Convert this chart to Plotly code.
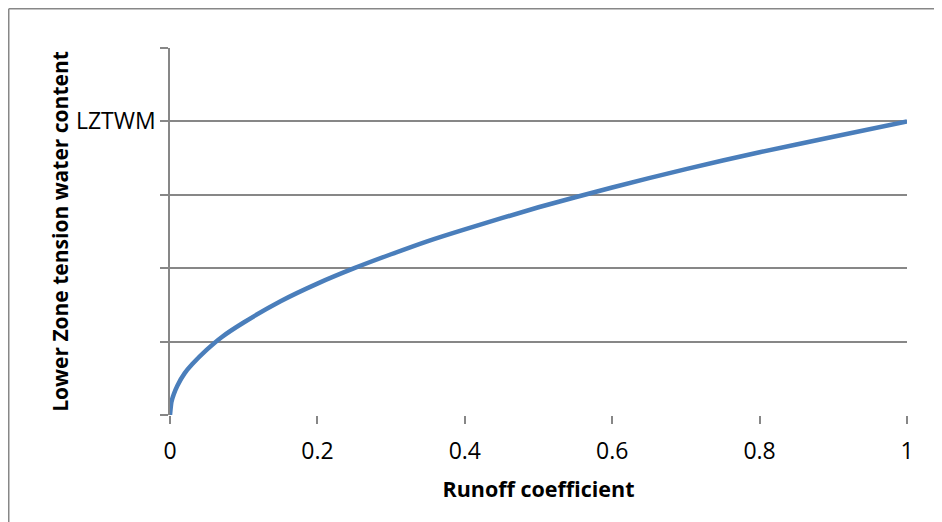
import plotly.graph_objects as go

# runoff coefficient vs lower zone tension water content
runoff = [0, 0.002, 0.005, 0.01, 0.02, 0.03, 0.05, 0.07, 0.1, 0.15, 0.2, 0.25,
          0.3, 0.35, 0.4, 0.5, 0.6, 0.7, 0.8, 0.9, 1.0]
lz_content = [0, 0.18, 0.28, 0.4, 0.57, 0.69, 0.89, 1.06, 1.26, 1.55, 1.79, 2.0,
              2.19, 2.37, 2.53, 2.83, 3.1, 3.35, 3.58, 3.79, 4.0]

x_ticks = [0, 0.2, 0.4, 0.6, 0.8, 1]
x_labels = ["0", "0.2", "0.4", "0.6", "0.8", "1"]
y_ticks = [0, 1, 2, 3, 4, 5]
y_labels = ["", "", "", "", "LZTWM", ""]

grid = "#878787"
font_family = "Open Sans, Liberation Sans, sans-serif"

fig = go.Figure()
fig.add_trace(go.Scatter(
    x=runoff, y=lz_content, mode="lines",
    line={"color": "#4a7ebb", "width": 4.5, "shape": "spline", "smoothing": 0.6},
    showlegend=False, hoverinfo="skip",
))

# page body has an 8px margin, so the figure is 8px smaller than the window
fig.update_layout(
    width=934, height=514,
    paper_bgcolor="white", plot_bgcolor="white",
    margin={"l": 162, "r": 35, "t": 40, "b": 107},
    font={"family": font_family, "color": "black", "size": 23},
    shapes=[
        # outer chart border (left and top edges visible), kept just inside the div
        {"type": "line", "xref": "paper", "yref": "paper", "x0": -0.2188, "x1": -0.2188,
         "y0": -0.4, "y1": 1.107, "line": {"color": grid, "width": 1.5}},
        {"type": "line", "xref": "paper", "yref": "paper", "x0": -0.2188, "x1": 1.1,
         "y0": 1.107, "y1": 1.107, "line": {"color": grid, "width": 1.5}},
    ],
)

fig.update_xaxes(
    range=[0, 1], tickvals=x_ticks, ticktext=x_labels,
    showgrid=False, zeroline=False,
    showline=False, ticks="outside", ticklen=8, tickcolor=grid, tickwidth=1.5,
    ticklabelstandoff=7,
    title={"text": "<b>Runoff coefficient</b>", "font": {"size": 21.5}, "standoff": 17},
)
fig.update_yaxes(
    range=[0, 5], tickvals=y_ticks, ticktext=y_labels,
    showgrid=True, gridcolor=grid, gridwidth=1.5, zeroline=False,
    showline=True, linecolor=grid, linewidth=1.5,
    ticks="outside", ticklen=8, tickcolor=grid, tickwidth=1.5,
    ticklabelstandoff=0,
    title={"text": "<b>Lower Zone tension water content</b>", "font": {"size": 21}, "standoff": 2},
)

fig.write_html("out.html")
